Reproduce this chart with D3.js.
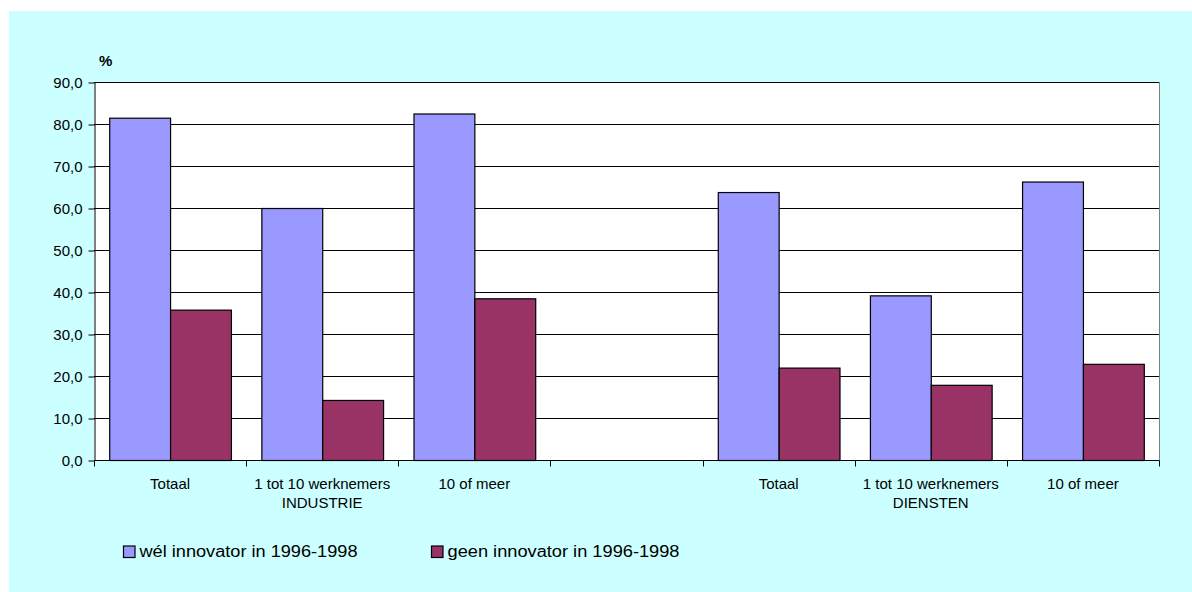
<!DOCTYPE html>
<html>
<head>
<meta charset="utf-8">
<script src="https://cdn.jsdelivr.net/npm/d3@7"></script>
<style>
  html, body { margin: 0; padding: 0; background: #fff; }
  text { font-family: Arial, "Liberation Sans", sans-serif; fill: #000; }
</style>
</head>
<body>
<svg id="chart" width="1192" height="592"></svg>
<script>
// categories (the empty one is the gap between the two sectors)
const categories = ["Totaal", "1 tot 10 werknemers", "10 of meer", "", "Totaal", "1 tot 10 werknemers", "10 of meer"]
const sectorLabels = ["", "INDUSTRIE", "", "", "", "DIENSTEN", ""]
const series = ["wél innovator in 1996-1998", "geen innovator in 1996-1998"]
const welValues = [81.5, 60.0, 82.5, null, 63.8, 39.2, 66.3]
const geenValues = [35.8, 14.3, 38.5, null, 22.0, 17.9, 22.9]
const yTicks = [0, 10, 20, 30, 40, 50, 60, 70, 80, 90]
const colors = ["#9999ff", "#993366"]

const svg = d3.select("#chart")
const margin = { left: 94, right: 1159, top: 82, bottom: 460 }
const font = "Arial, 'Liberation Sans', sans-serif"

// cyan chart area
svg.append("rect").attr("x", 9).attr("y", 11).attr("width", 1183).attr("height", 581)
  .attr("fill", "#ccffff")
svg.append("rect").attr("x", margin.left).attr("y", margin.top)
  .attr("width", margin.right - margin.left).attr("height", margin.bottom - margin.top)
  .attr("fill", "#fff")

const x0 = d3.scaleBand().domain(d3.range(categories.length)).range([margin.left, margin.right])
const bw = x0.bandwidth()
const x1 = d3.scaleBand().domain([0, 1]).range([bw * 0.1, bw * 0.9])
const y = d3.scaleLinear().domain([0, 90]).range([margin.bottom, margin.top])

const nl = d3.formatLocale({ decimal: ",", thousands: ".", grouping: [3], currency: ["", ""] })
const fmt = nl.format(".1f")

// gridlines
svg.append("g").selectAll("line").data(yTicks.slice(1)).join("line")
  .attr("x1", margin.left).attr("x2", margin.right)
  .attr("y1", d => Math.round(y(d)) + 0.5).attr("y2", d => Math.round(y(d)) + 0.5)
  .attr("stroke", "#000").attr("stroke-width", 1)

// right edge of plot
svg.append("line").attr("x1", margin.right + 0.5).attr("x2", margin.right + 0.5)
  .attr("y1", margin.top).attr("y2", margin.bottom).attr("stroke", "#808080")

// bars
const rows = categories.map((c, i) => ({ i, vals: [welValues[i], geenValues[i]] }))
const grp = svg.append("g").selectAll("g").data(rows).join("g")
  .attr("transform", d => `translate(${x0(d.i)},0)`)
grp.selectAll("rect").data(d => d.vals.map((v, s) => ({ v, s })).filter(d => d.v != null)).join("rect")
  .attr("x", d => x1(d.s) + 0.5)
  .attr("y", d => y(d.v) + 0.5)
  .attr("width", x1.bandwidth())
  .attr("height", d => y(0) - y(d.v))
  .attr("fill", d => colors[d.s])
  .attr("stroke", "#000").attr("stroke-width", 1.2)

// y axis
const yAxis = svg.append("g").attr("transform", `translate(${margin.left + 0.5},0.5)`)
  .call(d3.axisLeft(y).tickValues(yTicks).tickFormat(fmt).tickSize(6).tickSizeOuter(0))
yAxis.select(".domain").attr("stroke", "#000")
yAxis.selectAll("text").attr("font-size", 15).attr("dx", -3).attr("font-family", font).attr("fill", "#000")

// x axis
const xAxis = svg.append("g").attr("transform", `translate(0.5,${margin.bottom + 0.5})`)
xAxis.append("line").attr("x1", margin.left).attr("x2", margin.right).attr("stroke", "#000")
xAxis.selectAll("line.tick").data(d3.range(categories.length + 1)).join("line")
  .attr("class", "tick")
  .attr("x1", i => Math.round(margin.left + i * bw)).attr("x2", i => Math.round(margin.left + i * bw))
  .attr("y1", 0).attr("y2", 6).attr("stroke", "#000")

svg.append("g").selectAll("text").data(categories).join("text")
  .attr("x", (d, i) => x0(i) + bw / 2).attr("y", 489)
  .attr("text-anchor", "middle").attr("font-size", 15).text(d => d)
svg.append("g").selectAll("text").data(sectorLabels).join("text")
  .attr("x", (d, i) => x0(i) + bw / 2).attr("y", 508)
  .attr("text-anchor", "middle").attr("font-size", 15).text(d => d)

// unit label
svg.append("text").attr("x", 99).attr("y", 66).attr("font-size", 15).attr("font-weight", "bold").text("%")

// legend (text in the original is drawn slightly stretched)
const legendX = [123, 431]
const legendLen = [218, 232]
const leg = svg.append("g").selectAll("g").data(series).join("g")
  .attr("transform", (d, i) => `translate(${legendX[i]},545.5)`)
leg.append("rect").attr("x", 0.5).attr("y", 0.5).attr("width", 11.5).attr("height", 11.5)
  .attr("fill", (d, i) => colors[i]).attr("stroke", "#000").attr("stroke-width", 1.2)
leg.append("text").attr("x", 16.5).attr("y", 11.8).attr("font-size", 16)
  .attr("textLength", (d, i) => legendLen[i]).attr("lengthAdjust", "spacingAndGlyphs")
  .text(d => d)
</script>
</body>
</html>
